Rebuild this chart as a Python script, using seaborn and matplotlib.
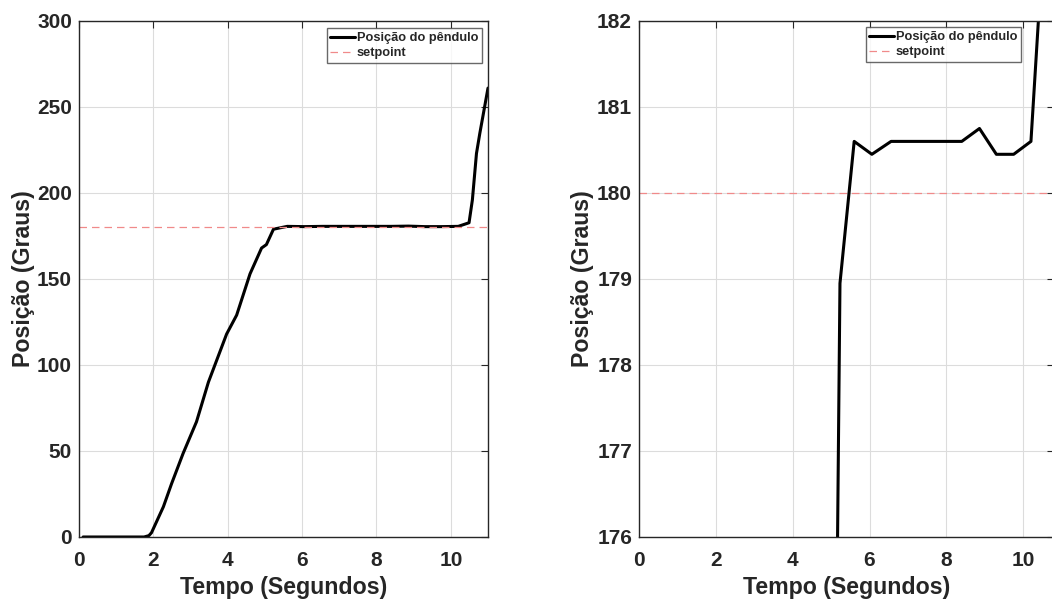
import matplotlib
matplotlib.use("Agg")
import matplotlib.pyplot as plt
import seaborn as sns
import numpy as np
import pandas as pd

# Pendulum angle over time (seconds, degrees)
tempo = [0.11, 1.75, 1.88, 1.95, 2.27, 2.49, 2.80, 3.16, 3.48, 3.97, 4.24,
         4.60, 4.91, 5.04, 5.23, 5.60, 6.06, 6.56, 8.40, 8.86, 9.30, 9.75,
         10.20, 10.49, 10.58, 10.69, 10.78, 11.00]
posicao = [0.0, 0.0, 0.8, 2.5, 17.6, 31.0, 48.6, 67.0, 90.0, 118.0, 129.0,
           153.0, 168.0, 170.0, 178.95, 180.6, 180.45, 180.6, 180.6, 180.75,
           180.45, 180.45, 180.6, 182.7, 196.0, 223.0, 234.7, 261.0]
setpoint = 180.0

x_ticks = [0, 2, 4, 6, 8, 10]
y_ticks_full = [0, 50, 100, 150, 200, 250, 300]
y_ticks_zoom = [176, 177, 178, 179, 180, 181, 182]

df = pd.DataFrame({"Tempo": tempo, "Posicao": posicao})

sns.set_style("white")
plt.rcParams["font.family"] = ["Liberation Sans", "DejaVu Sans"]
plt.rcParams["font.weight"] = "bold"

fig = plt.figure(figsize=(10.52, 6.0), dpi=100)
ax1 = fig.add_axes([79 / 1052, 63 / 600, 409 / 1052, 516 / 600])
ax2 = fig.add_axes([639 / 1052, 63 / 600, 415 / 1052, 516 / 600])

# full view and zoom around the setpoint
panels = [
    (ax1, (0, 11), (0, 300), y_ticks_full, (0.985, 0.986)),
    (ax2, (0, 10.8), (176, 182), y_ticks_zoom, (0.9205, 0.988)),
]

for ax, xlim, ylim, yticks, anchor in panels:
    sns.lineplot(data=df, x="Tempo", y="Posicao", ax=ax, color="black",
                 linewidth=2.2, label="Posição do pêndulo", sort=False,
                 estimator=None)
    ax.axhline(setpoint, color="#f08a8a", linestyle=(0, (6, 4)),
               linewidth=0.9, label="setpoint")
    ax.set_xlim(*xlim)
    ax.set_ylim(*ylim)
    ax.set_xticks(x_ticks)
    ax.set_yticks(yticks)
    ax.grid(True, color="#dcdcdc", linewidth=0.8)
    ax.tick_params(direction="in", length=5, width=0.8, top=True,
                   right=True, labelsize=15, colors="#262626")
    ax.tick_params(axis="x", pad=10)
    ax.tick_params(axis="y", pad=5)
    for lbl in ax.get_xticklabels() + ax.get_yticklabels():
        lbl.set_fontweight("bold")
    for sp in ax.spines.values():
        sp.set_color("#262626")
        sp.set_linewidth(1.0)
    ax.set_xlabel("Tempo (Segundos)", fontsize=16.7, fontweight="bold",
                  color="#262626")
    ax.set_ylabel("Posição (Graus)", fontsize=16.7, fontweight="bold",
                  color="#262626")
    ax.xaxis.set_label_coords(0.5, -0.076)
    ax.yaxis.set_label_coords(-0.108, 0.5)
    leg = ax.legend(loc="upper right", bbox_to_anchor=anchor,
                    frameon=True, fancybox=False, handlelength=1.9,
                    handletextpad=0.15, borderpad=0.3, labelspacing=0.25,
                    borderaxespad=0.0, prop={"weight": "bold", "size": 9.2})
    leg.get_frame().set_edgecolor("#444444")
    leg.get_frame().set_linewidth(1.0)

fig.savefig("out.png", dpi=100)
